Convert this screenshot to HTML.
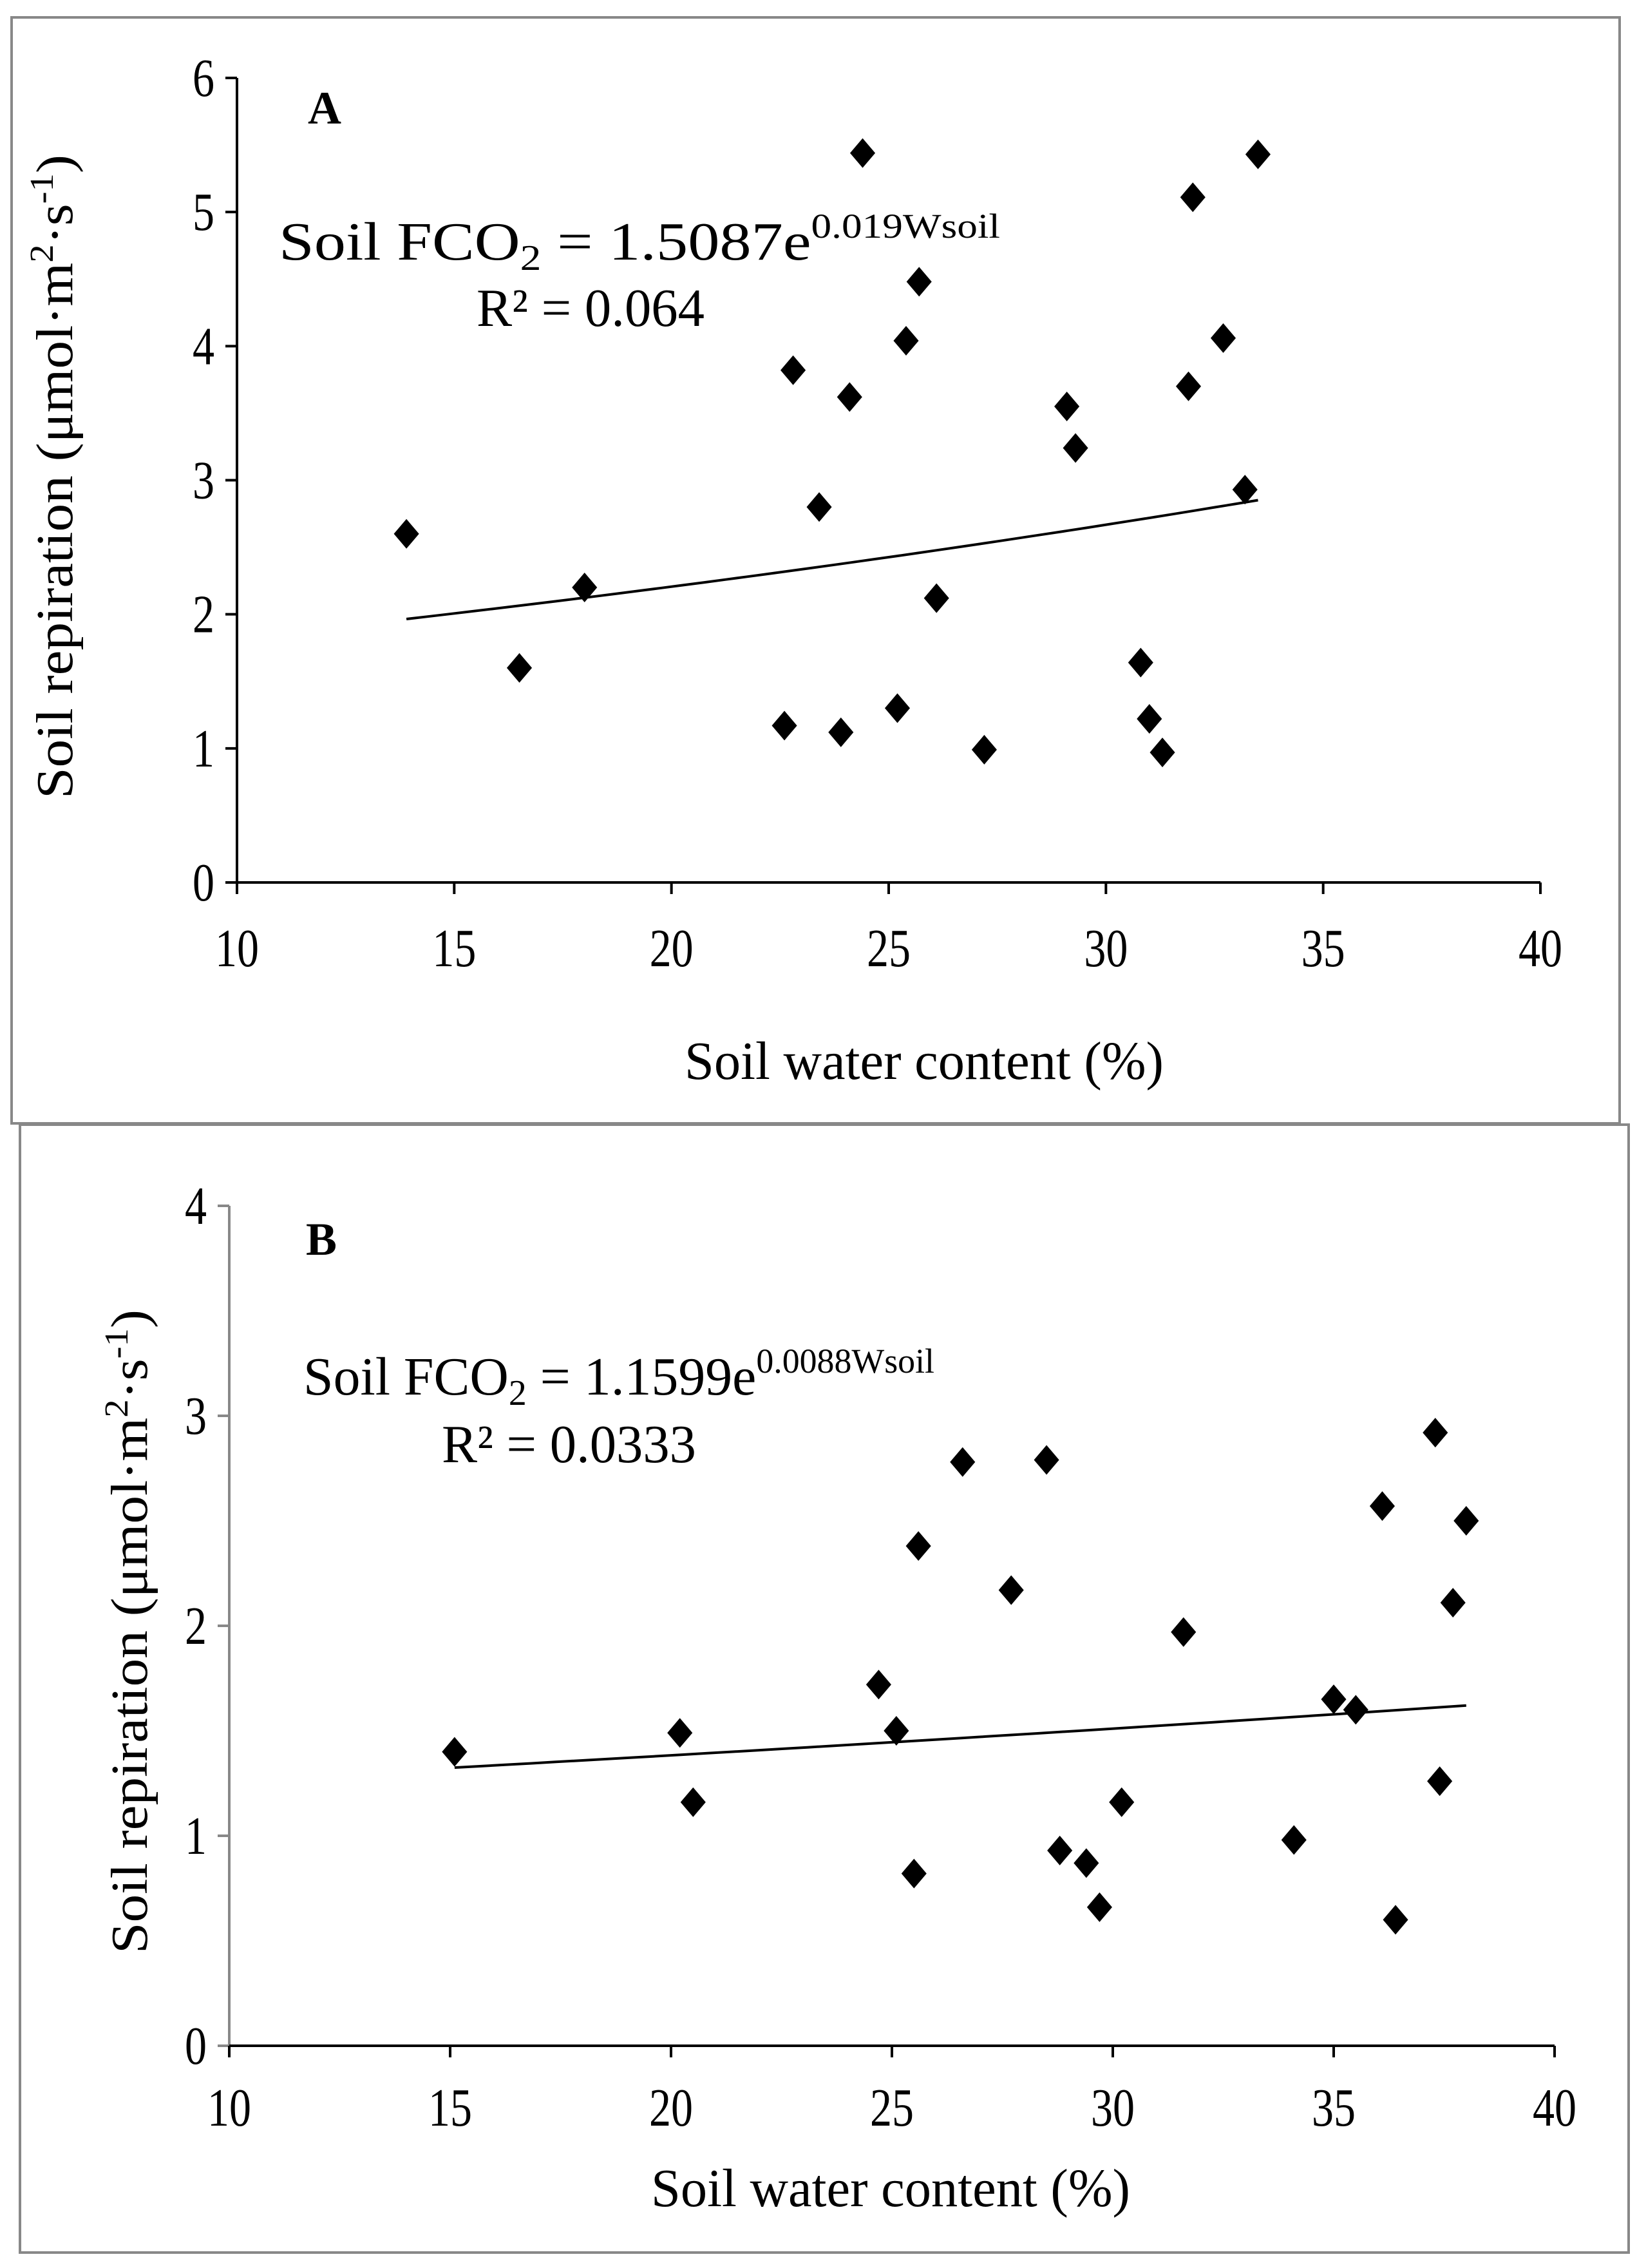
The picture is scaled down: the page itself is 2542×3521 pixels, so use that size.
<!DOCTYPE html>
<html><head><meta charset="utf-8"><style>
html,body{margin:0;padding:0;background:#fff}
svg{display:block;font-family:"Liberation Serif",serif}
</style></head><body>
<svg id="fig" width="2542" height="3521" viewBox="0 0 2542 3521" xmlns="http://www.w3.org/2000/svg">
<rect x="0" y="0" width="2542" height="3521" fill="#fff"/>
<rect x="18" y="27" width="2497" height="1717" fill="none" stroke="#888" stroke-width="4"/>
<rect x="31" y="1746" width="2498" height="1751" fill="none" stroke="#888" stroke-width="4"/>
<g id="pa"></g>
<g id="pb"></g>
</svg>
<script>
const xTicks = [10,15,20,25,30,35,40];
const yTicksA = [0,1,2,3,4,5,6];
const yTicksB = [0,1,2,3,4];
const waterA = [13.9,16.5,18,22.6,22.8,23.4,23.9,24.1,24.4,25.2,25.4,25.7,26.1,27.2,29.1,29.3,30.8,31,31.3,31.9,32,32.7,33.2,33.5];
const respA = [2.6,1.6,2.2,1.17,3.82,2.8,1.12,3.62,5.44,1.3,4.04,4.48,2.12,0.99,3.55,3.24,1.64,1.22,0.97,3.7,5.11,4.06,2.93,5.43];
const waterB = [15.1,20.2,20.5,24.7,25.1,25.5,25.6,26.6,27.7,28.5,28.8,29.4,29.7,30.2,31.6,34.1,35,35.5,36.1,36.4,37.3,37.4,37.7,38];
const respB = [1.4,1.49,1.16,1.72,1.5,0.82,2.38,2.78,2.17,2.79,0.93,0.87,0.66,1.16,1.97,0.98,1.65,1.6,2.57,0.6,2.92,1.26,2.11,2.5];
const fitA = [1.5087,0.019];
const fitB = [1.1599,0.0088];
const NS="http://www.w3.org/2000/svg";
function mk(p,t,a){const e=document.createElementNS(NS,t);for(const k in a)e.setAttribute(k,a[k]);p.appendChild(e);return e;}
function panel(g,cfg){
  const sx=v=>cfg.x0+(v-10)/30*(cfg.x1-cfg.x0);
  const sy=v=>cfg.y0-v/cfg.ymax*(cfg.y0-cfg.y1);
  let ya=mk(g,'line',{x1:cfg.x0,y1:cfg.y0,x2:cfg.x0,y2:cfg.y1,stroke:cfg.yc,'stroke-width':4});
  
  
  let xa=mk(g,'line',{x1:cfg.x0,y1:cfg.y0,x2:cfg.x1,y2:cfg.y0,stroke:'#000','stroke-width':4});
  
  
  cfg.yt.forEach(v=>{
    mk(g,'line',{x1:cfg.x0-18,y1:sy(v),x2:cfg.x0,y2:sy(v),stroke:cfg.yc,'stroke-width':4});
    const s=String(v);
    const t=mk(g,'text',{x:cfg.x0-35,y:sy(v)+28,'font-size':84,'text-anchor':'end',textLength:34*s.length,lengthAdjust:'spacingAndGlyphs'});t.textContent=s;
    
    
  });
  xTicks.forEach(v=>{
    mk(g,'line',{x1:sx(v),y1:cfg.y0,x2:sx(v),y2:cfg.y0+18,stroke:'#000','stroke-width':4});
    const s=String(v);
    const t=mk(g,'text',{x:sx(v)-34*s.length/2,y:cfg.xly,'font-size':84,textLength:34*s.length,lengthAdjust:'spacingAndGlyphs'});t.textContent=s;
    
    
  });
  const xs=cfg.wx, lo=Math.min(...xs), hi=Math.max(...xs);
  let d='';for(let i=0;i<=40;i++){const x=lo+(hi-lo)*i/40;const y=cfg.fit[0]*Math.exp(cfg.fit[1]*x);d+=(i?'L':'M')+sx(x).toFixed(1)+' '+sy(y).toFixed(1);}
  const fl=mk(g,'path',{d:d,fill:'none',stroke:'#000','stroke-width':4});
  
  
  cfg.wx.forEach((x,i)=>{
    const cx=sx(x),cy=sy(cfg.ry[i]),r=23;
    const p=mk(g,'path',{d:`M${cx} ${cy-r}L${cx+r*0.85} ${cy}L${cx} ${cy+r}L${cx-r*0.85} ${cy}Z`,fill:'#000'});
    
    
  });
}
panel(document.getElementById('pa'),{x0:368,x1:2392,y0:1370,y1:121,ymax:6,yt:yTicksA,yc:'#000',xly:1500,wx:waterA,ry:respA,fit:fitA});
panel(document.getElementById('pb'),{x0:356,x1:2414,y0:3176,y1:1872,ymax:4,yt:yTicksB,yc:'#888',xly:3300,wx:waterB,ry:respB,fit:fitB});
</script>
<svg style="position:absolute;left:0;top:0" width="2542" height="3521" xmlns="http://www.w3.org/2000/svg" font-family="Liberation Serif, serif">
<text x="478" y="192" font-size="72" font-weight="bold">A</text>
<text x="433" y="403" font-size="84" textLength="1120" lengthAdjust="spacingAndGlyphs">Soil FCO<tspan font-size="56" dy="16">2</tspan><tspan dy="-16"> = 1.5087e</tspan><tspan font-size="54" dy="-34">0.019Wsoil</tspan></text>
<text x="740" y="506" font-size="84" textLength="354" lengthAdjust="spacingAndGlyphs">R² = 0.064</text>
<text transform="translate(112,740) rotate(-90)" font-size="80" text-anchor="middle" textLength="1000" lengthAdjust="spacingAndGlyphs">Soil repiration (μmol·m<tspan font-size="52" dy="-30">2</tspan><tspan dy="30">·s</tspan><tspan font-size="52" dy="-30">-1</tspan><tspan dy="30">)</tspan></text>
<text x="1435" y="1675" font-size="84" text-anchor="middle" textLength="744" lengthAdjust="spacingAndGlyphs">Soil water content (%)</text>
<text x="475" y="1948" font-size="72" font-weight="bold">B</text>
<text x="471" y="2165" font-size="84" textLength="980" lengthAdjust="spacingAndGlyphs">Soil FCO<tspan font-size="56" dy="16">2</tspan><tspan dy="-16"> = 1.1599e</tspan><tspan font-size="54" dy="-34">0.0088Wsoil</tspan></text>
<text x="686" y="2270" font-size="84" textLength="395" lengthAdjust="spacingAndGlyphs">R² = 0.0333</text>
<text transform="translate(228,2533) rotate(-90)" font-size="80" text-anchor="middle" textLength="1000" lengthAdjust="spacingAndGlyphs">Soil repiration (μmol·m<tspan font-size="52" dy="-30">2</tspan><tspan dy="30">·s</tspan><tspan font-size="52" dy="-30">-1</tspan><tspan dy="30">)</tspan></text>
<text x="1383" y="3425" font-size="84" text-anchor="middle" textLength="744" lengthAdjust="spacingAndGlyphs">Soil water content (%)</text>
</svg>
</body></html>
